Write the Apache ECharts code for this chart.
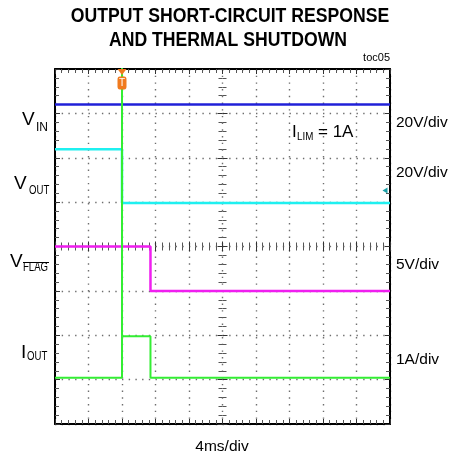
<!DOCTYPE html>
<html>
<head>
<meta charset="utf-8">
<script src="https://cdn.jsdelivr.net/npm/echarts@6/dist/echarts.min.js"></script>
<style>
  html, body { margin: 0; padding: 0; background: #fff; }
  #chart { width: 449px; height: 460px; }
</style>
</head>
<body>
<div id="chart"></div>
<script>
// time axis in ms (4ms/div, 10 div), levels in screen divisions (0..8 from bottom)
const timeMin = 0;
const timeMax = 40;
const timeStep = 4;
const divMin = 0;
const divMax = 8;

const triggerMs = 8;

const vinTime = [0, 40];
const vinDiv = [7.2, 7.2];

const voutTime = [0, 8, 8, 40];
const voutDiv = [6.19, 6.19, 4.98, 4.98];

const vflagTime = [0, 11.4, 11.4, 40];
const vflagDiv = [4.0, 4.0, 3.0, 3.0];

const ioutTime = [0, 8, 8, 8, 11.4, 11.4, 40];
const ioutDiv = [1.04, 1.04, 8.2, 1.98, 1.98, 1.04, 1.04];

const voutGroundDiv = 5.26;

const toPairs = (t, v) => t.map((x, i) => [x, v[i]]);

const chart = echarts.init(document.getElementById('chart'));

const dotted = { color: '#6e6e6e', width: 1.4, type: [1.4, 5.3] };

function axis(range, interval, position, offset, inside, split, edge) {
    return {
        type: 'value', min: range[0], max: range[1], interval: interval,
        position: position, offset: offset,
        axisLine: { show: edge, onZero: false, lineStyle: { color: '#000', width: 2 } },
        axisTick: { show: true, inside: inside, length: 5, lineStyle: { color: '#333' } },
        minorTick: { show: true, splitNumber: 5, length: 4, lineStyle: { color: '#555' } },
        axisLabel: { show: false },
        splitLine: { show: split, lineStyle: dotted },
        z: 2,
    };
}
const xr = [timeMin, timeMax];
const yr = [divMin, divMax];

function trace(name, data, color) {
    return {
        name: name, type: 'line', data: data,
        xAxisIndex: 0, yAxisIndex: 0,
        symbol: 'none', lineStyle: { color: color, width: 2.5 },
        z: 5,
    };
}

const txt = (x, y, s, size, opts, sx) => ({
    type: 'text', x: x, y: y, z: 20, scaleX: sx || 1,
    style: Object.assign({ text: s, fill: '#000', font: size + 'px "Liberation Sans", Arial, sans-serif',
        textAlign: 'left', textVerticalAlign: 'middle' }, opts || {}),
});

const ioutSeries = trace('IOUT', toPairs(ioutTime, ioutDiv), '#33ee33');
ioutSeries.lineStyle.width = 2;
ioutSeries.markPoint = {
    silent: true,
    z: 30,
    data: [
        { coord: [triggerMs, divMax], symbol: 'triangle', symbolRotate: 180, symbolSize: [9, 6],
          symbolOffset: [0, 3], itemStyle: { color: '#f07a1e' } },
        { coord: [triggerMs, divMax], symbol: 'roundRect', symbolSize: [9, 13],
          symbolOffset: [0, 14], itemStyle: { color: '#f07a1e' },
          label: { show: true, formatter: 'T', color: '#fff', fontSize: 10, fontFamily: 'Liberation Sans' } },
    ],
};

const voutSeries = trace('VOUT', toPairs(voutTime, voutDiv), '#1ff0f0');
voutSeries.markPoint = {
    silent: true,
    data: [
        { coord: [timeMax, voutGroundDiv], symbol: 'triangle', symbolRotate: 90, symbolSize: [6, 5],
          symbolOffset: [-5, 0], itemStyle: { color: '#1a9fa6' }, label: { show: false } },
    ],
};

chart.setOption({
    animation: false,
    grid: { left: 55, right: 59, top: 69, bottom: 36 },
    xAxis: [
        axis(xr, timeStep, 'bottom', 0, true, true, true),
        axis(xr, timeStep, 'top', 0, true, false, true),
        axis(xr, timeStep, 'bottom', -177.5, true, false, false),
        axis(xr, timeStep, 'bottom', -177.5, false, false, false),
    ],
    yAxis: [
        axis(yr, 1, 'left', 0, true, true, true),
        axis(yr, 1, 'right', 0, true, false, true),
        axis(yr, 1, 'left', -167.5, true, false, false),
        axis(yr, 1, 'left', -167.5, false, false, false),
    ],
    series: [
        trace('VIN', toPairs(vinTime, vinDiv), '#2020d8'),
        voutSeries,
        trace('VFLAG', toPairs(vflagTime, vflagDiv), '#f01ef0'),
        ioutSeries,
    ],
    graphic: [
        txt(230, 16, 'OUTPUT SHORT-CIRCUIT RESPONSE', 'bold 21', { textAlign: 'center' }, 0.84),
        txt(228, 40, 'AND THERMAL SHUTDOWN', 'bold 21', { textAlign: 'center' }, 0.84),
        txt(390, 58, 'toc05', 11, { textAlign: 'right' }),

        txt(22, 120, 'V', 19),
        txt(36, 128, 'IN', 12),
        txt(14, 184, 'V', 19),
        txt(29, 191, 'OUT', 12, null, 0.8),
        txt(10, 262, 'V', 19),
        txt(23, 268, 'FLAG', 12, null, 0.8),
        { type: 'line', z: 20, shape: { x1: 23, y1: 262.5, x2: 49, y2: 262.5 }, style: { stroke: '#000', lineWidth: 1 } },
        txt(21, 353, 'I', 19),
        txt(27, 357, 'OUT', 12, null, 0.8),

        txt(292, 132, 'I', 17),
        txt(297, 137, 'LIM', 11.5, null, 0.85),
        txt(318, 132, '= 1A', 17),

        txt(396, 122.5, '20V/div', 15.5),
        txt(396, 173, '20V/div', 15.5),
        txt(396, 264.5, '5V/div', 15.5),
        txt(396, 360, '1A/div', 15.5),
        txt(222, 447, '4ms/div', 15.5, { textAlign: 'center' }),
    ],
});
</script>
</body>
</html>
